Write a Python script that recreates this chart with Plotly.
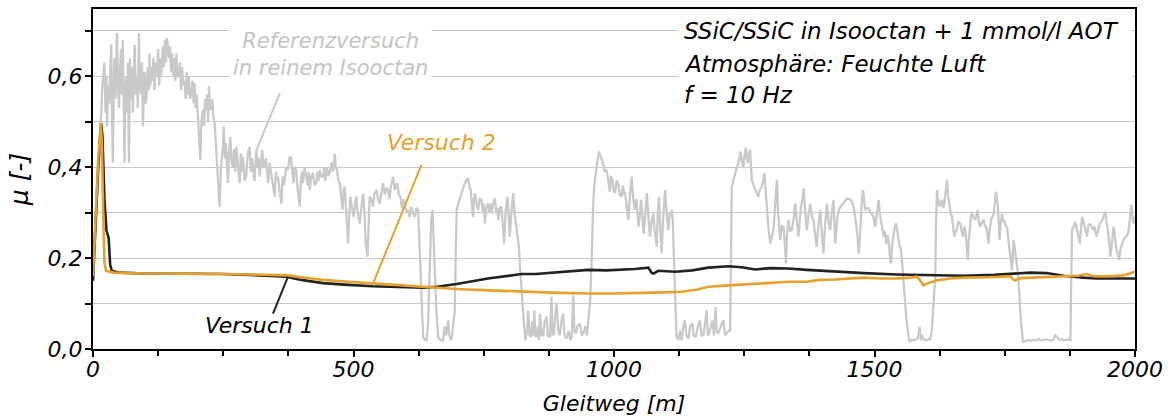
import plotly.graph_objects as go

# Reference run in pure isooctane: (sliding distance [m], friction coefficient)
ref_points = [
    (0, 0.20), (3, 0.24), (6, 0.30), (9, 0.36), (12, 0.42), (15, 0.50), (18, 0.58), (20, 0.61),
    (22, 0.63), (24, 0.52), (26, 0.60), (27, 0.49), (29, 0.58), (31, 0.54), (33, 0.64), (35, 0.67),
    (36, 0.55), (38, 0.41), (40, 0.58), (41, 0.64), (43, 0.55), (45, 0.66), (46, 0.695), (48, 0.58),
    (50, 0.53), (52, 0.62), (54, 0.66), (55, 0.56), (57, 0.68), (59, 0.54), (60.5, 0.41), (62, 0.57),
    (64, 0.60), (66, 0.52), (67, 0.63), (69, 0.41), (71, 0.64), (73, 0.55), (75, 0.62), (76.5, 0.52),
    (78, 0.60), (80, 0.67), (82, 0.56), (84, 0.60), (86, 0.53), (88, 0.695), (90, 0.58), (92, 0.56),
    (94, 0.63), (96, 0.49), (98, 0.59), (99, 0.61), (101, 0.54), (103, 0.556), (105, 0.62),
    (107, 0.57), (108.5, 0.65), (110, 0.58), (112, 0.62), (113.7, 0.59), (116, 0.64), (118, 0.57),
    (120, 0.63), (122.6, 0.60), (125, 0.66), (127, 0.58), (129, 0.64), (131, 0.60), (134, 0.666),
    (136, 0.62), (138, 0.68), (140, 0.63), (142, 0.684), (144, 0.66), (146, 0.64), (148, 0.666),
    (150, 0.61), (152, 0.65), (154, 0.60), (156, 0.64), (158, 0.59), (160, 0.65), (162, 0.60),
    (165, 0.60), (167, 0.63), (169, 0.57), (171, 0.62), (173, 0.58), (176, 0.59), (178, 0.55),
    (180, 0.61), (182, 0.56), (184, 0.60), (186, 0.55), (189, 0.563), (191, 0.59), (193, 0.54),
    (195, 0.585), (197, 0.53), (199, 0.56), (201.5, 0.504), (204, 0.47), (206, 0.416), (208, 0.50),
    (211, 0.526), (213, 0.49), (215, 0.55), (217, 0.526), (219, 0.56), (221, 0.50), (222.5, 0.578),
    (225, 0.53), (227, 0.526), (229, 0.55), (231, 0.51), (233.5, 0.497), (236, 0.45), (238, 0.394),
    (240, 0.35), (243, 0.313), (246, 0.409),
    (249, 0.44), (251, 0.49), (253, 0.42), (255, 0.453), (257, 0.40), (259, 0.365), (261, 0.43),
    (263.5, 0.467), (266, 0.41), (268.6, 0.40), (271, 0.44), (273, 0.39), (275, 0.445), (278, 0.40),
    (281.5, 0.365), (284, 0.43), (286, 0.39), (288, 0.423), (291, 0.37), (294, 0.379), (297, 0.43),
    (300.7, 0.445), (303, 0.39), (305, 0.42), (307, 0.394), (310, 0.37), (313.5, 0.438), (316, 0.40),
    (318, 0.42), (320, 0.379), (322, 0.41), (325, 0.438), (327, 0.40), (329.5, 0.401), (332, 0.42),
    (334, 0.38), (336, 0.365), (339, 0.41), (342, 0.387), (345, 0.36), (348.7, 0.335), (351, 0.39),
    (353, 0.37), (355, 0.379), (358, 0.35), (361.5, 0.32), (364, 0.38), (366, 0.36), (368, 0.372),
    (371, 0.40), (374.3, 0.394), (377, 0.42), (379.5, 0.423), (382, 0.39), (385, 0.365), (387, 0.40),
    (390, 0.394), (393, 0.35), (396.7, 0.313), (399, 0.37), (401, 0.39), (403, 0.365), (406, 0.40),
    (409.5, 0.379), (412, 0.36), (414, 0.39), (416, 0.35), (419, 0.38), (422.3, 0.387), (425, 0.36),
    (428.8, 0.365), (431, 0.39), (433, 0.37), (435, 0.394), (438, 0.38), (441.6, 0.379), (444, 0.40),
    (446, 0.37), (449, 0.40), (452, 0.38), (455.7, 0.394), (458, 0.41), (461, 0.39), (464, 0.43),
    (466, 0.40), (468.5, 0.394), (471, 0.37), (473.6, 0.365), (476, 0.34), (479, 0.306), (481, 0.35),
    (483, 0.357), (486, 0.30), (489.6, 0.232), (492, 0.30), (494, 0.335), (497, 0.31), (500.5, 0.291),
    (503, 0.32), (505.6, 0.335), (508, 0.30), (512, 0.276), (515, 0.31), (518.4, 0.342), (521, 0.30),
    (523.5, 0.232), (527, 0.203), (529, 0.28), (531, 0.335), (534, 0.33), (537.6, 0.313), (540, 0.34),
    (544, 0.35), (547, 0.33), (550.4, 0.32), (553, 0.34), (556.8, 0.365), (560, 0.34), (563, 0.355),
    (566.4, 0.35), (569, 0.33), (572, 0.36), (576, 0.379), (579, 0.35), (581, 0.36), (583.7, 0.365),
    (587, 0.34), (590, 0.335), (593, 0.31), (596, 0.33), (598.5, 0.32), (602, 0.30), (605, 0.306),
    (608, 0.29), (611, 0.313), (614, 0.30), (617.7, 0.291), (621, 0.31), (624, 0.306), (626, 0.25),
    (628.5, 0.173), (631, 0.08), (633.7, 0.026), (637, 0.02), (640, 0.019), (643, 0.05),
    (646.6, 0.197), (649, 0.28), (651.6, 0.306), (654, 0.25), (656, 0.173), (659, 0.09),
    (662.5, 0.026), (667, 0.02), (672, 0.019), (675, 0.05), (678, 0.03), (681.7, 0.063), (684, 0.03),
    (688, 0.019), (691, 0.05), (694.5, 0.085), (696, 0.20), (698, 0.306),
    (701, 0.32), (704, 0.33), (707, 0.343), (710, 0.355), (713.7, 0.365), (717, 0.372), (720, 0.376),
    (722, 0.36), (725, 0.35), (727, 0.32), (729.7, 0.29), (731, 0.33), (733, 0.343), (736, 0.32),
    (739, 0.306), (742, 0.33), (745.7, 0.328), (748, 0.30), (750, 0.32), (752, 0.276), (755, 0.31),
    (758.5, 0.32), (761, 0.30), (763, 0.32), (765, 0.298), (768, 0.32), (771.3, 0.331), (774, 0.30),
    (776, 0.31), (778, 0.284), (781, 0.31), (784, 0.313), (786, 0.28), (789, 0.232), (792, 0.30),
    (795.7, 0.335), (798, 0.29), (800, 0.247), (803, 0.30), (806.6, 0.343), (809, 0.30), (811, 0.28),
    (813, 0.262), (815, 0.24), (817.5, 0.225), (819, 0.19), (821.3, 0.151), (823, 0.11), (826, 0.071),
    (830, 0.019),
    (833, 0.04), (835.4, 0.085), (838, 0.03), (840.5, 0.026), (843, 0.06), (845, 0.03), (847, 0.085),
    (849, 0.03), (851.4, 0.026), (854, 0.05), (856, 0.02), (858, 0.078), (861, 0.03), (864, 0.030),
    (867, 0.06), (870.6, 0.071), (873, 0.03), (877, 0.026), (880, 0.115), (882, 0.03), (884.7, 0.034),
    (887, 0.07), (890, 0.10), (893, 0.04), (896, 0.030), (899, 0.06), (902.6, 0.078), (905, 0.03),
    (909, 0.023), (913, 0.04), (916, 0.02), (918.6, 0.026), (922, 0.118), (924, 0.04), (926.3, 0.034),
    (930, 0.05), (934.6, 0.056), (938, 0.03), (941, 0.034), (945, 0.05), (948, 0.03), (950.7, 0.063),
    (954, 0.10), (957, 0.188), (960, 0.32),
    (963, 0.37), (966.7, 0.409), (969, 0.42), (971, 0.434), (974, 0.425), (977, 0.415), (979, 0.409),
    (982, 0.39), (985, 0.395), (988, 0.379), (990, 0.36), (992, 0.346), (994, 0.38), (997, 0.372),
    (999, 0.35), (1002, 0.343), (1005, 0.37), (1008, 0.365), (1011, 0.34), (1014.7, 0.335),
    (1017, 0.36), (1019, 0.34), (1021, 0.346), (1024, 0.31), (1027.5, 0.284), (1030, 0.33),
    (1032, 0.36), (1034, 0.379), (1037, 0.33), (1040, 0.306), (1043, 0.33), (1045, 0.30),
    (1047, 0.269), (1050, 0.30), (1052, 0.328), (1055, 0.28), (1057, 0.254), (1060, 0.30),
    (1063, 0.343), (1066, 0.29), (1069, 0.247), (1072, 0.28), (1075.5, 0.298), (1078, 0.26),
    (1082, 0.225), (1084, 0.30), (1086.5, 0.335), (1089, 0.26), (1091.5, 0.210), (1094, 0.28),
    (1096, 0.32), (1098, 0.35), (1101, 0.30), (1104.4, 0.262), (1107, 0.30), (1109, 0.29),
    (1111, 0.306), (1113, 0.28), (1114, 0.240), (1117, 0.151), (1120, 0.026),
    (1124, 0.02), (1127, 0.04), (1130, 0.019), (1133, 0.05), (1136, 0.063), (1139, 0.03),
    (1143, 0.023), (1146, 0.05), (1150.5, 0.056), (1153, 0.03), (1157, 0.026), (1161, 0.05),
    (1165, 0.063), (1168, 0.03), (1171.6, 0.030), (1175, 0.06), (1178, 0.085), (1180, 0.03),
    (1182.5, 0.034), (1186, 0.05), (1189, 0.063), (1192, 0.03), (1195, 0.093), (1197, 0.04),
    (1200, 0.034), (1205, 0.05), (1210, 0.063), (1213, 0.03), (1216.4, 0.034), (1220, 0.04),
    (1223, 0.041), (1226, 0.357),
    (1229, 0.37), (1232.4, 0.387), (1236, 0.40), (1239, 0.409), (1241, 0.42), (1243, 0.434),
    (1246, 0.41), (1248.5, 0.401), (1251, 0.43), (1253, 0.442), (1255, 0.42), (1257, 0.409),
    (1259, 0.43), (1261.3, 0.438), (1263, 0.40), (1264.5, 0.372), (1268, 0.36), (1271, 0.35),
    (1274, 0.34), (1277, 0.335), (1280, 0.35), (1284, 0.357), (1286, 0.37), (1289, 0.387),
    (1291, 0.35), (1293, 0.306), (1296, 0.27), (1300, 0.232), (1303, 0.25), (1306, 0.262),
    (1309, 0.31), (1312.5, 0.372), (1315, 0.30), (1319, 0.240), (1322, 0.27), (1325.3, 0.269),
    (1328, 0.23), (1330, 0.188), (1332, 0.25), (1335, 0.284), (1338, 0.26), (1341.3, 0.262),
    (1345, 0.29), (1348, 0.320), (1351, 0.28), (1354, 0.247), (1357, 0.29), (1359, 0.313),
    (1362, 0.33), (1364, 0.354), (1367, 0.30), (1370, 0.262), (1373, 0.29), (1376.6, 0.320),
    (1380, 0.29), (1383, 0.284), (1386, 0.25), (1389, 0.225), (1392, 0.27), (1396, 0.306),
    (1399, 0.25), (1402, 0.210), (1405, 0.27), (1408.6, 0.320), (1412, 0.28), (1415, 0.262),
    (1418, 0.30), (1421.4, 0.328),
    (1424.6, 0.232), (1427, 0.27), (1429, 0.291), (1433, 0.31), (1437.4, 0.317), (1442, 0.325),
    (1447, 0.331), (1451, 0.33), (1454.7, 0.328), (1458, 0.32), (1461, 0.306), (1464, 0.28),
    (1466, 0.262), (1468, 0.24), (1470, 0.210), (1472, 0.26), (1474, 0.298), (1476, 0.33),
    (1478, 0.35), (1480, 0.32), (1482, 0.306), (1485, 0.31), (1488.6, 0.309), (1492, 0.30),
    (1495, 0.298), (1498, 0.29), (1501.5, 0.269), (1505, 0.30), (1508, 0.328), (1510, 0.30),
    (1512, 0.284), (1515, 0.26), (1517.5, 0.247), (1520, 0.26), (1522.6, 0.232), (1525, 0.25),
    (1527, 0.240), (1529, 0.21), (1531.5, 0.188), (1534, 0.23), (1536.7, 0.254), (1539, 0.27),
    (1541.8, 0.276), (1544, 0.25), (1546, 0.240), (1548, 0.23), (1550.8, 0.218), (1553, 0.19),
    (1554.6, 0.159), (1557, 0.12), (1559, 0.10), (1561, 0.07), (1563.6, 0.041), (1567.4, 0.016),
    (1571, 0.02), (1575, 0.019), (1579, 0.022), (1582.8, 0.023), (1586.6, 0.049), (1589, 0.019),
    (1591, 0.03), (1594, 0.023), (1597, 0.02), (1600.7, 0.019), (1604, 0.022), (1607, 0.021),
    (1610, 0.04), (1612, 0.085), (1614, 0.12), (1616.7, 0.159), (1618, 0.28), (1620, 0.35),
    (1622, 0.33), (1625, 0.313), (1627, 0.32), (1629.5, 0.328), (1632, 0.31), (1634, 0.320),
    (1636, 0.34), (1639, 0.372), (1641, 0.34), (1644, 0.313), (1646, 0.30), (1648.7, 0.291),
    (1651, 0.27), (1653, 0.247), (1656, 0.26), (1658, 0.262), (1661, 0.28), (1664.8, 0.276),
    (1667, 0.26), (1670, 0.247), (1672, 0.27), (1674, 0.262), (1677, 0.23), (1679, 0.196),
    (1681, 0.24), (1682.7, 0.269), (1685, 0.29), (1687, 0.302), (1690, 0.29), (1693.6, 0.284),
    (1696, 0.30), (1698, 0.306), (1700, 0.28), (1703, 0.269), (1706, 0.28), (1709.6, 0.284),
    (1712, 0.27), (1714.7, 0.269), (1717, 0.25), (1719, 0.232), (1721, 0.26), (1723.7, 0.284),
    (1726, 0.29), (1728.8, 0.298), (1731, 0.32), (1733, 0.346), (1736.5, 0.320), (1738, 0.28),
    (1740, 0.240), (1742, 0.27), (1744.8, 0.298), (1747, 0.28), (1749, 0.284), (1752, 0.27),
    (1754.4, 0.269), (1757, 0.24), (1759.5, 0.218), (1762, 0.19), (1764, 0.173), (1767, 0.240),
    (1769, 0.22), (1772, 0.203), (1775, 0.17), (1777, 0.137), (1779, 0.10), (1781, 0.063),
    (1785, 0.016),
    (1790, 0.018), (1795, 0.02), (1799, 0.018), (1805, 0.02), (1810, 0.019), (1815, 0.022),
    (1818.5, 0.019), (1824, 0.02), (1830, 0.021), (1837.7, 0.019), (1843, 0.02), (1847, 0.03),
    (1850.5, 0.026), (1855, 0.02), (1860, 0.022), (1863, 0.019), (1868, 0.02), (1872, 0.021),
    (1876, 0.019),
    (1879, 0.262), (1882.5, 0.269), (1885, 0.28), (1889, 0.262), (1891, 0.25), (1894, 0.232),
    (1896, 0.26), (1898.5, 0.291), (1901, 0.28), (1903, 0.269), (1905, 0.26), (1908, 0.247),
    (1910, 0.27), (1913, 0.276), (1916, 0.27), (1919.6, 0.262), (1922, 0.27), (1926, 0.247),
    (1929, 0.26), (1932.5, 0.276), (1936, 0.28), (1939, 0.291), (1941, 0.30), (1943, 0.302),
    (1945, 0.28), (1948, 0.262), (1950, 0.24), (1953, 0.203), (1956, 0.24), (1959, 0.269),
    (1962, 0.24), (1964.5, 0.218), (1967, 0.21), (1969.6, 0.196), (1972, 0.22), (1975, 0.232),
    (1978, 0.24), (1982, 0.247), (1985, 0.25), (1988, 0.262), (1990, 0.28), (1993, 0.317),
    (1996.5, 0.276), (2000, 0.291),
]
ref_x = [p[0] for p in ref_points]
ref_mu = [p[1] for p in ref_points]

# Versuch 1 (SSiC/SSiC in isooctane + 1 mmol/l AOT)
v1_x = [0, 10, 15.5, 18, 22, 26, 30, 33, 36, 50, 100, 186, 250, 300, 350, 371, 400, 441, 490,
        537, 600, 634, 660, 698, 758, 790, 823, 850, 887, 920, 950, 985, 1015, 1040, 1066, 1072,
        1076, 1085, 1117, 1150, 1181, 1220, 1245, 1271, 1300, 1334, 1370, 1400, 1424, 1480,
        1543, 1600, 1671, 1730, 1770, 1799, 1830, 1863, 1900, 1927, 1960, 2000]
v1_mu = [0.15, 0.40, 0.497, 0.47, 0.33, 0.26, 0.245, 0.185, 0.172, 0.168, 0.166, 0.166, 0.165,
         0.163, 0.161, 0.159, 0.152, 0.145, 0.141, 0.138, 0.136, 0.135, 0.137, 0.143, 0.155,
         0.160, 0.165, 0.165, 0.168, 0.170, 0.174, 0.173, 0.174, 0.176, 0.179, 0.168, 0.166,
         0.172, 0.170, 0.173, 0.179, 0.182, 0.180, 0.175, 0.178, 0.177, 0.174, 0.172, 0.170,
         0.167, 0.164, 0.163, 0.161, 0.163, 0.166, 0.168, 0.167, 0.161, 0.157, 0.155, 0.155,
         0.155]

# Versuch 2
v2_x = [0, 10, 15, 17, 20, 22, 25, 40, 100, 186, 250, 300, 371, 400, 441, 490, 537, 580, 633,
        698, 760, 823, 880, 950, 1000, 1079, 1130, 1160, 1181, 1220, 1271, 1300, 1335, 1370,
        1395, 1424, 1450, 1479, 1510, 1543, 1570, 1581, 1587, 1594, 1605, 1620, 1645, 1671,
        1720, 1761, 1766, 1770, 1780, 1799, 1830, 1863, 1890, 1908, 1920, 1950, 1978, 1990,
        2000]
v2_mu = [0.16, 0.42, 0.497, 0.45, 0.28, 0.19, 0.172, 0.168, 0.166, 0.166, 0.165, 0.164, 0.162,
         0.158, 0.152, 0.148, 0.145, 0.141, 0.137, 0.132, 0.129, 0.126, 0.124, 0.122, 0.122,
         0.124, 0.126, 0.131, 0.137, 0.140, 0.143, 0.146, 0.148, 0.148, 0.152, 0.153, 0.155,
         0.157, 0.155, 0.155, 0.157, 0.159, 0.152, 0.140, 0.146, 0.151, 0.155, 0.157, 0.158,
         0.160, 0.153, 0.151, 0.156, 0.157, 0.158, 0.160, 0.161, 0.165, 0.160, 0.160, 0.162,
         0.166, 0.170]

# Leader lines from labels to curves: (x0, mu0, x1, mu1)
leader_ref = (358.7, 0.563, 313.8, 0.438)
leader_v2 = (630.5, 0.405, 537.6, 0.144)
leader_v1 = (345.5, 0.078, 374.3, 0.159)

info_lines = ["SSiC/SSiC in Isooctan + 1 mmol/l AOT",
              "Atmosphäre: Feuchte Luft",
              "f = 10 Hz"]

GRAY = "#c9c9c9"
ORANGE = "#e6a12c"
BLACK = "#222222"
FONT = "DejaVu Sans"
GRID = "#c8c8c8"

fig = go.Figure()
fig.add_trace(go.Scatter(x=ref_x, y=ref_mu, mode="lines",
                         line=dict(color=GRAY, width=2.3)))
fig.add_trace(go.Scatter(x=v1_x, y=v1_mu, mode="lines",
                         line=dict(color=BLACK, width=2.6)))
fig.add_trace(go.Scatter(x=v2_x, y=v2_mu, mode="lines",
                         line=dict(color=ORANGE, width=2.6)))

for (x0, y0, x1, y1), col in [(leader_ref, GRAY), (leader_v2, ORANGE), (leader_v1, BLACK)]:
    fig.add_shape(type="line", x0=x0, y0=y0, x1=x1, y1=y1, xref="x", yref="y",
                  line=dict(color=col, width=2), layer="above")

# white panel behind the test conditions (interrupts the grid)
fig.add_shape(type="rect", x0=1123, x1=1993, y0=0.525, y1=0.73, xref="x", yref="y",
              fillcolor="white", line=dict(width=0), layer="between")

for txt, yy in zip(info_lines, [0.699, 0.628, 0.559]):
    fig.add_annotation(x=1130, y=yy, xref="x", yref="y", text=txt, showarrow=False,
                       xanchor="left", yanchor="middle",
                       font=dict(family=FONT, size=23, color="black", style="italic"))

fig.add_annotation(x=456, y=0.648, xref="x", yref="y",
                   text="Referenzversuch<br>in reinem Isooctan", showarrow=False,
                   xanchor="center", yanchor="middle", align="center",
                   bgcolor="white", borderpad=3,
                   font=dict(family=FONT, size=21, color="#c4c4c4", style="italic"))
fig.add_annotation(x=669, y=0.4536, xref="x", yref="y", text="Versuch 2", showarrow=False,
                   xanchor="center", yanchor="middle",
                   font=dict(family=FONT, size=22, color=ORANGE, style="italic"))
fig.add_annotation(x=319, y=0.052, xref="x", yref="y", text="Versuch 1", showarrow=False,
                   xanchor="center", yanchor="middle",
                   font=dict(family=FONT, size=22, color="black", style="italic"))

tickfont = dict(family=FONT, size=22, color="black", style="italic")

fig.update_layout(
    width=1172, height=416,
    margin=dict(l=93, r=37, t=9, b=67),
    plot_bgcolor="white", paper_bgcolor="white",
    showlegend=False,
    separators=",.",
    font=dict(family=FONT, size=22, color="black", style="italic"),
    xaxis=dict(range=[0, 2000], tick0=0, dtick=500, ticks="outside", ticklen=6,
               tickwidth=1.5, tickcolor="black", tickfont=tickfont, automargin=False,
               ticklabelstandoff=-6,
               showline=True, linecolor="black", linewidth=2, mirror=True,
               showgrid=False, zeroline=False,
               minor=dict(dtick=125, ticks="outside", ticklen=5, tickwidth=1.5,
                          tickcolor="black", showgrid=False),
               title=dict(text="Gleitweg [m]", font=tickfont, standoff=16)),
    yaxis=dict(range=[0, 0.748], tick0=0, dtick=0.2, tickformat=".1f",
               ticks="outside", ticklen=6, tickwidth=1.5, tickcolor="black",
               tickfont=tickfont, automargin=False, ticklabelstandoff=-2,
               showline=True, linecolor="black", linewidth=2, mirror=True,
               showgrid=True, gridcolor=GRID, gridwidth=1, zeroline=False,
               minor=dict(dtick=0.1, ticks="outside", ticklen=6, tickwidth=1.5,
                          tickcolor="black", showgrid=True, gridcolor=GRID, gridwidth=1),
               title=dict(text="μ [-]", font=dict(family=FONT, size=25, color="black",
                                                  style="italic"), standoff=12)),
)

fig.write_html("out.html")
